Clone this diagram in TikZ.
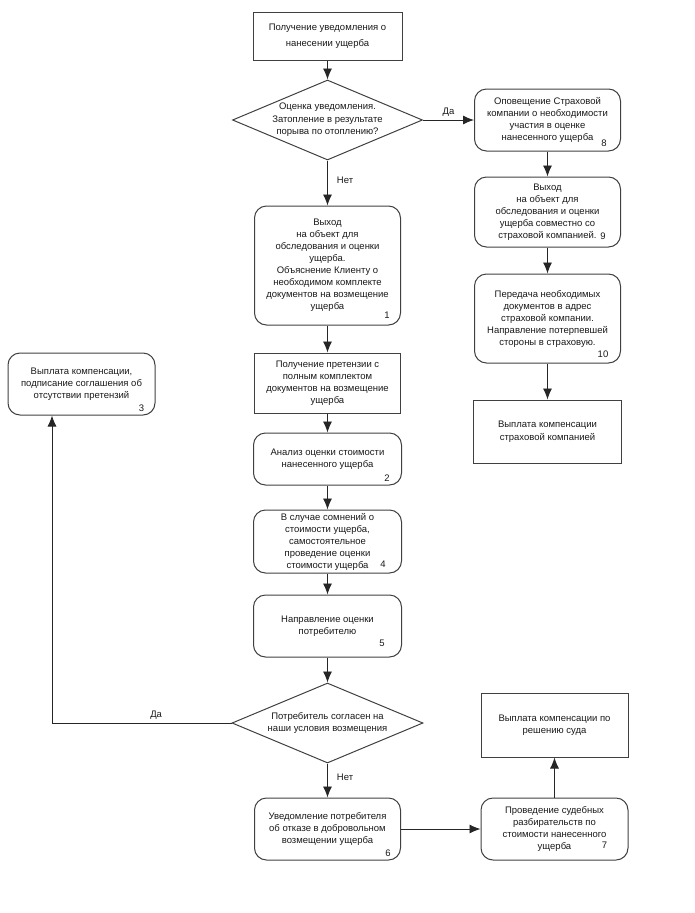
\documentclass[tikz,border=0pt]{standalone}
\usepackage{fontspec}
\setmainfont{Liberation Sans}
\usetikzlibrary{shapes.geometric,arrows.meta}

\tikzstyle{base}=[draw=black!75,line width=1pt,align=center,inner sep=2pt,text=black!90,font=\fontsize{9.5}{12}\selectfont]
\tikzstyle{stepbox}=[base,rectangle]
\tikzstyle{roundbox}=[base,rectangle,rounded corners=12pt]
\tikzstyle{decision}=[draw=black!75,line width=1pt,diamond,inner sep=0pt]
\tikzstyle{dtext}=[align=center,inner sep=0pt,text=black!90,font=\fontsize{9.5}{12.5}\selectfont]
\tikzstyle{num}=[inner sep=0pt,text=black!90,font=\fontsize{9.5}{12}\selectfont]
\tikzstyle{answer}=[inner sep=1pt,text=black!90,font=\fontsize{9.5}{12}\selectfont]
\tikzstyle{flow}=[draw=black!85,line width=0.9pt,-{Latex[length=11pt,width=9pt]}]

\begin{document}
\begin{tikzpicture}[x=1pt,y=-1pt]
\useasboundingbox (0,0) rectangle (695,913);

% main column
\node[stepbox,minimum width=149pt,minimum height=48pt,font=\fontsize{9.5}{16.5}\selectfont] (notice) at (327.5,36)
  {Получение уведомления о\\нанесении ущерба};
\node[decision,minimum width=190pt,minimum height=80pt,
  label={[dtext]center:{Оценка уведомления.\\Затопление в результате\\порыва по отоплению?}}] (d1) at (327.5,120) {};
\node[roundbox,minimum width=146pt,minimum height=119pt] (b1) at (327.5,265.5)
  {Выход\\на объект для\\обследования и оценки\\ущерба.\\Объяснение Клиенту о\\необходимом комплекте\\документов на возмещение\\ущерба};
\node[stepbox,minimum width=146pt,minimum height=60pt] (claim) at (327.5,383)
  {Получение претензии с\\полным комплектом\\документов на возмещение\\ущерба};
\node[roundbox,minimum width=148pt,minimum height=52pt] (b2) at (327.5,459)
  {Анализ оценки стоимости\\нанесенного ущерба};
\node[roundbox,minimum width=148pt,minimum height=63pt] (b4) at (327.5,541.5)
  {В случае сомнений о\\стоимости ущерба,\\самостоятельное\\проведение оценки\\стоимости ущерба};
\node[roundbox,minimum width=148pt,minimum height=62pt] (b5) at (327.5,626)
  {Направление оценки\\потребителю};
\node[decision,minimum width=191pt,minimum height=80pt,
  label={[dtext]center:{Потребитель согласен на\\наши условия возмещения}}] (d2) at (327.5,723) {};
\node[roundbox,minimum width=146pt,minimum height=62pt] (b6) at (327.5,829)
  {Уведомление потребителя\\об отказе в добровольном\\возмещении ущерба};

% left
\node[roundbox,minimum width=147pt,minimum height=62pt] (b3) at (81.5,384)
  {Выплата компенсации,\\подписание соглашения об\\отсутствии претензий};

% right column
\node[roundbox,minimum width=146pt,minimum height=62pt] (b8) at (547.5,120)
  {Оповещение Страховой\\компании о необходимости\\участия в оценке\\нанесенного ущерба};
\node[roundbox,minimum width=146pt,minimum height=70pt] (b9) at (547.5,212)
  {Выход\\на объект для\\обследования и оценки\\ущерба совместно со\\страховой компанией.};
\node[roundbox,minimum width=146pt,minimum height=89pt] (b10) at (547.5,318.5)
  {Передача необходимых\\документов в адрес\\страховой компании.\\Направление потерпевшей\\стороны в страховую.};
\node[stepbox,minimum width=148pt,minimum height=63pt,font=\fontsize{9.5}{13}\selectfont] (payins) at (547.5,431.5)
  {Выплата компенсации\\страховой компанией};
\node[roundbox,minimum width=147pt,minimum height=62pt] (b7) at (554.5,829)
  {Проведение судебных\\разбирательств по\\стоимости нанесенного\\ущерба};
\node[stepbox,minimum width=147pt,minimum height=64pt] (paycourt) at (554.5,725)
  {Выплата компенсации по\\решению суда};

% step numbers
\node[num] (n1) at ([shift={(-14,-10)}]b1.south east) {1};
\node[num] (n2) at ([shift={(-15,-7)}]b2.south east) {2};
\node[num] (n3) at ([shift={(-14,-7)}]b3.south east) {3};
\node[num] (n4) at ([shift={(-19,-9)}]b4.south east) {4};
\node[num] (n5) at ([shift={(-20,-14)}]b5.south east) {5};
\node[num] (n6) at ([shift={(-13,-7)}]b6.south east) {6};
\node[num] (n7) at ([shift={(-24,-15)}]b7.south east) {7};
\node[num] (n8) at ([shift={(-17,-8)}]b8.south east) {8};
\node[num] (n9) at ([shift={(-18,-11)}]b9.south east) {9};
\node[num] (n10) at ([shift={(-18,-9)}]b10.south east) {10};

% connectors
\draw[flow] (notice) -- (d1);
\draw[flow] (d1.east) -- node[answer,above=2pt] {Да} (b8.west);
\draw[flow] (d1.south) -- node[answer,right=8pt,pos=0.45] {Нет} (b1.north);
\draw[flow] (b8) -- (b9);
\draw[flow] (b9) -- (b10);
\draw[flow] (b10) -- (payins);
\draw[flow] (b1) -- (claim);
\draw[flow] (claim) -- (b2);
\draw[flow] (b2) -- (b4);
\draw[flow] (b4) -- (b5);
\draw[flow] (b5) -- (d2);
\draw[flow] (d2.west) -| node[answer,above=2pt,pos=0.21] {Да} ([xshift=-29.5pt]b3.south);
\draw[flow] (d2.south) -- node[answer,right=8pt,pos=0.4] {Нет} (b6.north);
\draw[flow] (b6) -- (b7);
\draw[flow] (b7) -- (paycourt);
\end{tikzpicture}
\end{document}
